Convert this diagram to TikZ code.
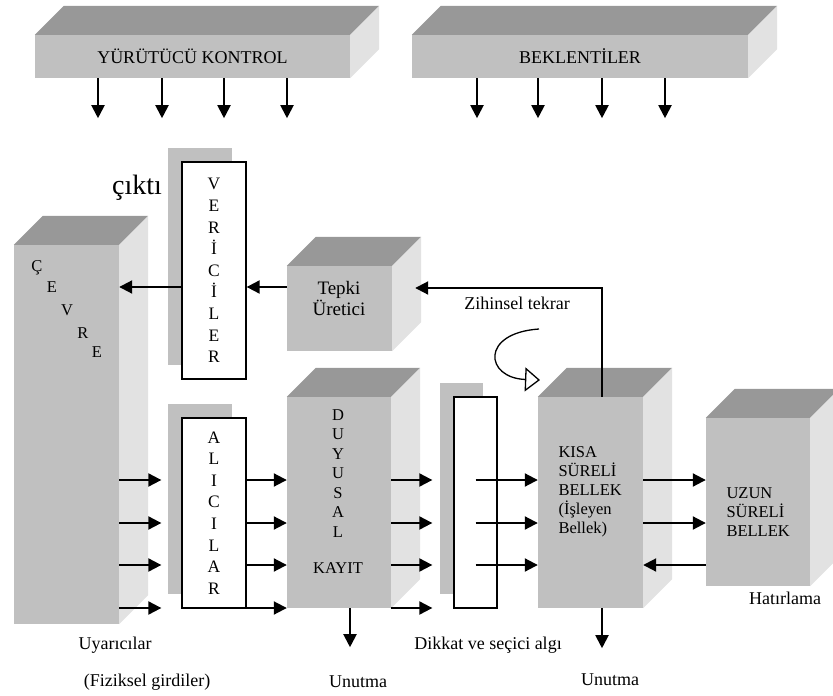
\documentclass[tikz,border=0pt]{standalone}
\usepackage{fontspec}
\setmainfont{Liberation Serif}
\usetikzlibrary{arrows.meta,positioning,shadows}

\definecolor{frontgray}{RGB}{192,192,192}
\definecolor{topgray}{RGB}{152,152,152}
\definecolor{sidegray}{RGB}{226,226,226}

% top and side face of a box, drawn at its front node
\newcommand{\boxfaces}[1]{%
  \fill[topgray] (#1.north west) -- ++(29,-29) -- ([shift={(29,-29)}]#1.north east) -- (#1.north east) -- cycle;
  \fill[sidegray] (#1.north east) -- ++(29,-29) -- ([shift={(29,-29)}]#1.south east) -- (#1.south east) -- cycle;}

\begin{document}
\begin{tikzpicture}[x=1pt,y=-1pt,
  cube/.style={fill=frontgray,inner sep=0pt},
  recv/.style={draw,line width=1.3pt,fill=white,inner sep=0pt,align=center,
    font=\fontsize{17.5}{21.6}\selectfont,
    general shadow={fill=frontgray,shadow xshift=-14pt,shadow yshift=14pt}},
  lbl/.style={font=\fontsize{18}{21}\selectfont},
  let16/.style={font=\fontsize{16.5}{19.5}\selectfont,align=center,inner sep=0pt},
  arr/.style={line width=2pt,-{Triangle[length=13pt,width=13pt]}}]
  \useasboundingbox (0,0) rectangle (833,696);
  \clip (0,0) rectangle (833,696);

  % Top boxes
  \node[cube,minimum width=315,minimum height=43,lbl] (yurutucu) at (192.5,56.5) {YÜRÜTÜCÜ KONTROL};
  \boxfaces{yurutucu}
  \node[cube,minimum width=336,minimum height=43,lbl] (beklenti) at (580,56.5) {BEKLENTİLER};
  \boxfaces{beklenti}

  % Environment
  \node[cube,minimum width=105,minimum height=379] (cevre) at (66.5,434.5) {};
  \boxfaces{cevre}
  \foreach \c/\x/\y in {Ç/37/268,E/52/287,V/67/310,R/83/333,E/97/352}
    \node[let16] at (\x,\y) {\c};

  % Effectors and receptors
  \node[recv,minimum width=64,minimum height=217] (verici) at (214,270.5) {V\\E\\R\\İ\\C\\İ\\L\\E\\R};
  \node[recv,minimum width=64,minimum height=190] (alici) at (214,513) {A\\L\\I\\C\\I\\L\\A\\R};
  \node[font=\fontsize{28}{30}\selectfont] (cikti) at (137,188) {çıktı};

  % Response generator
  \node[cube,minimum width=105,minimum height=85] (tepki) at (339.5,308.5) {};
  \boxfaces{tepki}
  \node[font=\fontsize{19}{21}\selectfont,align=center] (tepkilbl) at (339,298) {Tepki\\Üretici};

  % Sensory register
  \node[cube,minimum width=104,minimum height=211] (duyusal) at (339,502.5) {};
  \boxfaces{duyusal}
  \node[let16] (duyusallbl) at (338,473.5) {D\\U\\Y\\U\\S\\A\\L};
  \node[let16] (kayit) at (338,568) {KAYIT};

  % Attention
  \node[recv,minimum width=43,minimum height=211] (dikkat) at (475.5,502.5) {};

  % Short and long term memory
  \node[cube,minimum width=105,minimum height=211] (kisa) at (590.5,502.5) {};
  \boxfaces{kisa}
  \node[font=\fontsize{16.5}{19}\selectfont,align=left,anchor=west] (kisalbl) at (555,491.5)
    {KISA\\SÜRELİ\\BELLEK\\(İşleyen\\Bellek)};
  \node[cube,minimum width=104,minimum height=168] (uzun) at (758,502) {};
  \boxfaces{uzun}
  \node[font=\fontsize{16.5}{19}\selectfont,align=left,anchor=west] (uzunlbl) at (723,512)
    {UZUN\\SÜRELİ\\BELLEK};

  % Arrows
  \foreach \x in {98,162,224,287}
    \draw[arr] (yurutucu.south -| \x,0) -- ++(0,40);
  \foreach \x in {477,538,602,665}
    \draw[arr] (beklenti.south -| \x,0) -- ++(0,40);

  \foreach \r/\y in {1/480,2/523,3/565,4/608}
    \coordinate (row\r) at (0,\y);
  \foreach \r in {1,...,4} {
    \draw[arr,shorten >=20pt] (cevre.east |- row\r) -- (alici.west |- row\r);
    \draw[arr] (alici.east |- row\r) -- (duyusal.west |- row\r);
    \draw[arr,shorten >=21pt] (duyusal.east |- row\r) -- (dikkat.west |- row\r);
  }
  \foreach \r in {1,2,3}
    \draw[arr] (dikkat.center |- row\r) -- (kisa.west |- row\r);
  \draw[arr] (kisa.east |- row1) -- (uzun.west |- row1);
  \draw[arr] (kisa.east |- row2) -- (uzun.west |- row2);
  \draw[arr] (uzun.west |- row3) -- (kisa.east |- row3);

  \coordinate (outrow) at (0,287);
  \draw[arr] (tepki.west |- outrow) -- (verici.east |- outrow);
  \draw[arr] (verici.west |- outrow) -- (cevre.east |- outrow);

  \coordinate (rehearse) at (602,288);
  \draw[arr] (kisa.north -| rehearse) -- (rehearse) -- ([xshift=23pt]tepki.east |- rehearse);
  \node[lbl] (zihinsel) at (517,303) {Zihinsel tekrar};
  \draw[line width=1.3pt,-{Triangle[open,length=15pt,width=24pt,line width=1.3pt]}]
    (539,329) .. controls (480,333) and (485,378) .. (540,380);

  \draw[arr] (duyusal.south -| 350,0) -- ++(0,39);
  \draw[arr] (kisa.south -| 602,0) -- ++(0,40);

  % Labels
  \node[lbl] (uyarici) at (115,645) {Uyarıcılar};
  \node[lbl] (fiziksel) at (147,682) {(Fiziksel girdiler)};
  \node[lbl] (unutma1) at (358,682) {Unutma};
  \node[lbl] (dikkatlbl) at (488,645) {Dikkat ve seçici algı};
  \node[lbl] (unutma2) at (610,680) {Unutma};
  \node[lbl] (hatirlama) at (785,598) {Hatırlama};
\end{tikzpicture}
\end{document}
